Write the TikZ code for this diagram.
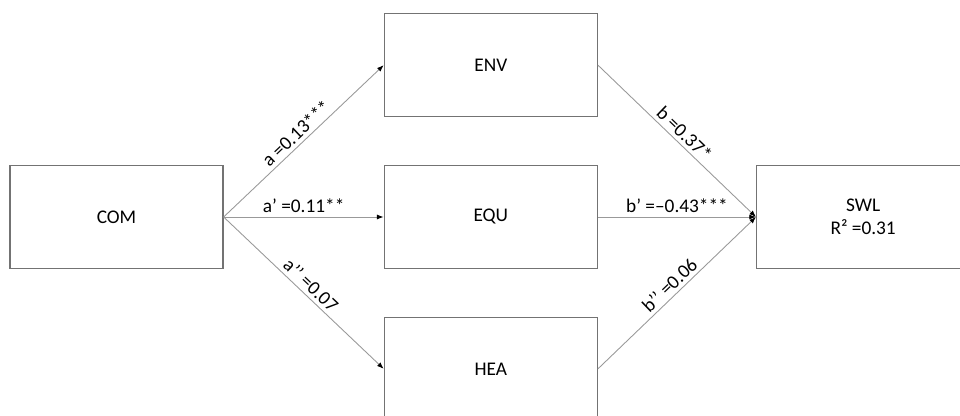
\documentclass[tikz,border=0pt]{standalone}
\usepackage{fontspec}
\setmainfont{Carlito}
\usetikzlibrary{positioning, arrows.meta}

\begin{document}
\begin{tikzpicture}[
        node distance=0.95cm,
        box/.style={rectangle, draw=black!55, line width=0.75pt, minimum width=4.26cm, minimum height=2.06cm, align=center, font=\fontsize{11}{13}\selectfont},
        effect/.style={-{Latex[length=3.8pt, width=2.8pt, color=black]}, draw=black!40, line width=0.5pt},
        coef/.style={sloped, above, font=\fontsize{11}{13}\selectfont, inner sep=2pt},
    ]
        \useasboundingbox (-2.33,-3.98) rectangle (16.87,4.34);

        % Predictor
        \node[box] (com) {COM};

        % Mediators
        \node[box, right=3.2cm of com] (equ) {EQU};
        \node[box, above=of equ] (env) {ENV};
        \node[box, below=of equ] (hea) {HEA};

        % Outcome
        \node[box, right=3.16cm of equ] (swl) {SWL\\R² =0.31};

        % a paths
        \draw[effect] (com.east) -- node[coef] {a =0.13***} (env.west);
        \draw[effect] (com.east) -- node[coef] {a’ =0.11**} (equ.west);
        \draw[effect] (com.east) -- node[coef] {a’’ =0.07} (hea.west);

        % b paths
        \draw[effect] (env.east) -- node[coef] {b =0.37*} (swl.west);
        \draw[effect] (equ.east) -- node[coef] {b’ =–0.43***} (swl.west);
        \draw[effect] (hea.east) -- node[coef] {b’’ =0.06} (swl.west);

    \end{tikzpicture}
\end{document}
